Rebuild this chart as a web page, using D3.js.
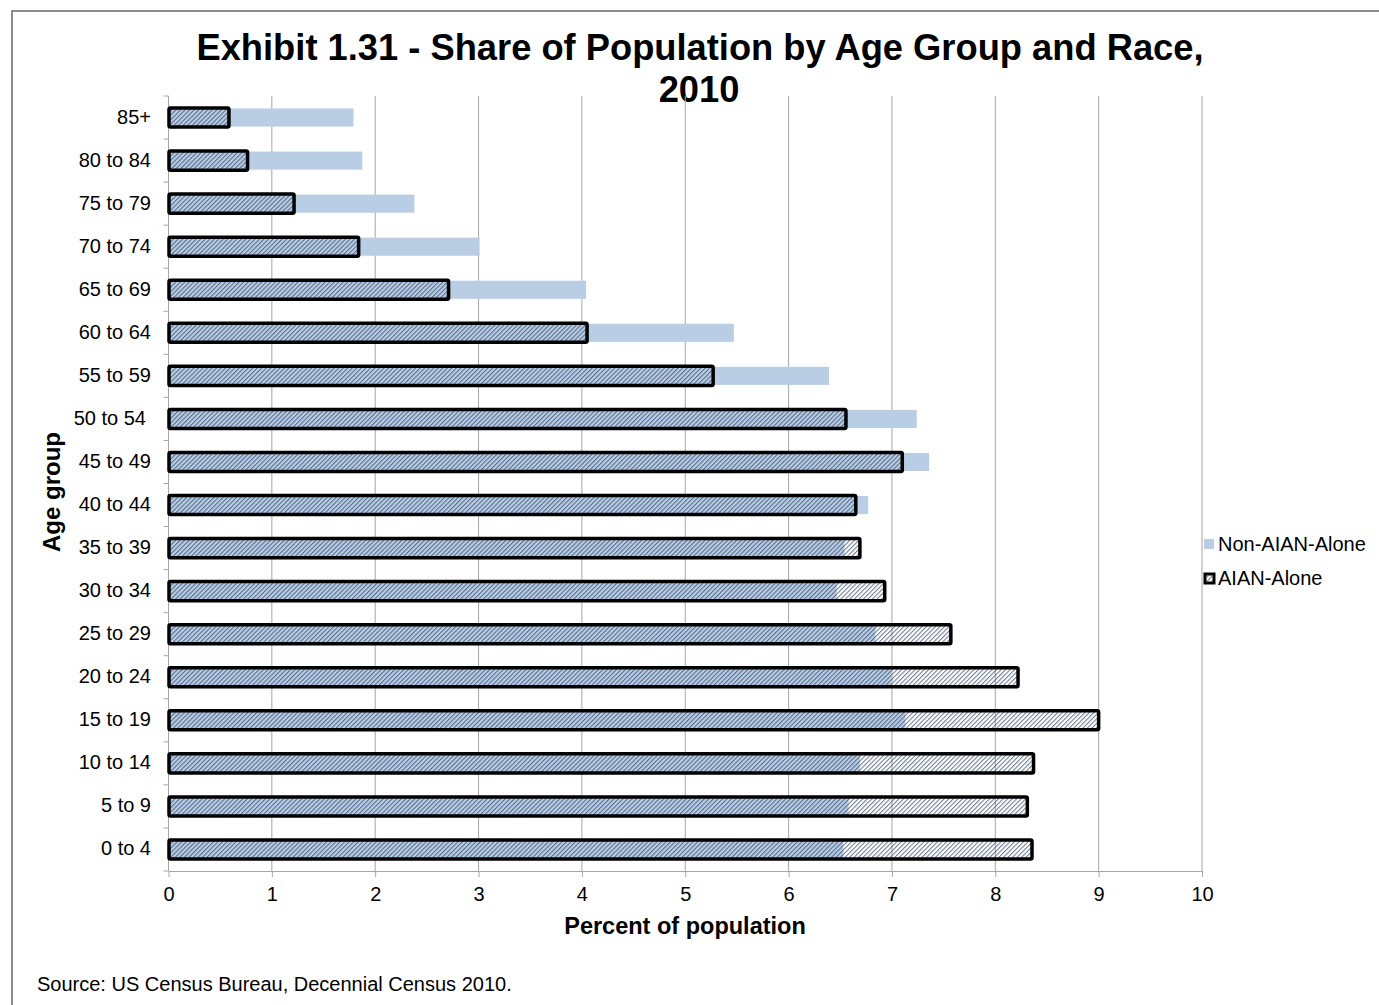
<!DOCTYPE html>
<html>
<head>
<meta charset="utf-8">
<script src="https://cdn.jsdelivr.net/npm/d3@7"></script>
<style>
  html, body { margin: 0; padding: 0; background: #fff; }
  svg { display: block; font-family: "Liberation Sans", Arial, sans-serif; }
</style>
</head>
<body>
<svg id="chart" width="1379" height="1005"></svg>
<script>
// Age groups, top to bottom
const ageGroups = ["85+", "80 to 84", "75 to 79", "70 to 74", "65 to 69", "60 to 64",
  "55 to 59", "50 to 54", "45 to 49", "40 to 44", "35 to 39", "30 to 34",
  "25 to 29", "20 to 24", "15 to 19", "10 to 14", "5 to 9", "0 to 4"];

// Percent of population in each age group, 2010
const nonAianAlone = [1.79, 1.875, 2.38, 3.01, 4.04, 5.47, 6.39, 7.24, 7.36, 6.77,
  6.54, 6.465, 6.84, 6.99, 7.13, 6.69, 6.58, 6.53];
const aianAlone = [0.585, 0.765, 1.215, 1.84, 2.71, 4.05, 5.27, 6.555, 7.10, 6.65,
  6.69, 6.93, 7.57, 8.22, 9.00, 8.37, 8.31, 8.355];

const xTicks = [0, 1, 2, 3, 4, 5, 6, 7, 8, 9, 10];
const seriesNames = ["Non-AIAN-Alone", "AIAN-Alone"];

const svg = d3.select("#chart");
const blue = "#b9cde5";
const gridColor = "#a6a6a6";

const plot = { left: 168.5, right: 1202, top: 96, bottom: 871 };

const x = d3.scaleLinear().domain([0, 10]).range([plot.left, plot.right]);
const y = d3.scaleBand().domain(ageGroups).range([plot.top, plot.bottom])
  .paddingInner(0.58).paddingOuter(0.29);

// diagonal hatch used for the AIAN-Alone bars
const defs = svg.append("defs");
const pat = defs.append("pattern")
  .attr("id", "hatch")
  .attr("patternUnits", "userSpaceOnUse")
  .attr("width", 3.2).attr("height", 3.2)
  .attr("patternTransform", "rotate(45)");
pat.append("line")
  .attr("x1", 0.6).attr("y1", 0).attr("x2", 0.6).attr("y2", 3.2)
  .attr("stroke", "#24395a").attr("stroke-width", 0.7);

// outer frame
svg.append("path")
  .attr("d", "M12,1005 L12,11 L1379,11")
  .attr("fill", "none").attr("stroke", "#8c8c8c").attr("stroke-width", 2);

// title
const title = svg.append("text")
  .attr("text-anchor", "middle")
  .attr("font-weight", "bold").attr("font-size", 36.3).attr("fill", "#000");
title.append("tspan").attr("x", 700).attr("y", 60)
  .text("Exhibit 1.31 - Share of Population by Age Group and Race,");
title.append("tspan").attr("x", 699).attr("y", 102).text("2010");

// vertical gridlines
svg.append("g").selectAll("line")
  .data(xTicks.filter(d => d > 0))
  .join("line")
  .attr("x1", d => x(d)).attr("x2", d => x(d))
  .attr("y1", plot.top).attr("y2", plot.bottom)
  .attr("stroke", gridColor).attr("stroke-width", 1);

// x axis
const xAxis = svg.append("g")
  .attr("transform", `translate(0,${plot.bottom})`)
  .call(d3.axisBottom(x).tickValues(xTicks).tickFormat(d3.format("d"))
    .tickSize(6).tickSizeOuter(0).tickPadding(10));
xAxis.select(".domain").attr("stroke", gridColor);
xAxis.selectAll(".tick line").attr("stroke", gridColor);
xAxis.selectAll(".tick text")
  .attr("font-size", 20).attr("fill", "#000")
  .attr("font-family", "'Liberation Sans', Arial, sans-serif");

// y axis line with ticks at category boundaries
const yAxisG = svg.append("g");
yAxisG.append("line")
  .attr("x1", plot.left).attr("x2", plot.left)
  .attr("y1", plot.top).attr("y2", plot.bottom)
  .attr("stroke", gridColor);
const boundaries = d3.range(ageGroups.length + 1)
  .map(i => plot.top + i * y.step());
yAxisG.selectAll("line.tick")
  .data(boundaries)
  .join("line")
  .attr("class", "tick")
  .attr("x1", plot.left - 5).attr("x2", plot.left)
  .attr("y1", d => d).attr("y2", d => d)
  .attr("stroke", gridColor);

// category labels
svg.append("g").selectAll("text")
  .data(ageGroups)
  .join("text")
  .attr("x", d => d === "50 to 54" ? 146 : 151)
  .attr("y", d => y(d) + y.bandwidth() / 2 - 1)
  .attr("dy", "0.35em")
  .attr("text-anchor", "end")
  .attr("font-size", 20).attr("fill", "#000")
  .text(d => d);

// Non-AIAN-Alone bars
svg.append("g").selectAll("rect")
  .data(ageGroups)
  .join("rect")
  .attr("x", x(0))
  .attr("y", d => y(d))
  .attr("width", (d, i) => x(nonAianAlone[i]) - x(0))
  .attr("height", y.bandwidth())
  .attr("fill", blue);

// AIAN-Alone bars: hatched, heavy black outline, drawn over the blue bars
svg.append("g").selectAll("rect")
  .data(ageGroups)
  .join("rect")
  .attr("x", x(0) + 0.5)
  .attr("y", d => y(d) - 0.5)
  .attr("width", (d, i) => x(aianAlone[i]) - x(0) - 0.5)
  .attr("height", y.bandwidth() + 1)
  .attr("rx", 1.5)
  .attr("fill", "url(#hatch)")
  .attr("stroke", "#000").attr("stroke-width", 3.5);

// axis titles
svg.append("text")
  .attr("x", 685).attr("y", 934)
  .attr("text-anchor", "middle")
  .attr("font-weight", "bold").attr("font-size", 23.5).attr("fill", "#000")
  .text("Percent of population");

svg.append("text")
  .attr("transform", "translate(60,492) rotate(-90)")
  .attr("text-anchor", "middle")
  .attr("font-weight", "bold").attr("font-size", 24).attr("fill", "#000")
  .text("Age group");

// legend
const legend = svg.append("g");
legend.append("rect")
  .attr("x", 1204).attr("y", 539).attr("width", 10).attr("height", 10)
  .attr("fill", blue);
legend.append("rect")
  .attr("x", 1205).attr("y", 574).attr("width", 9).attr("height", 9)
  .attr("fill", "#fff").attr("stroke", "#000").attr("stroke-width", 3);
legend.append("rect")
  .attr("x", 1206.5).attr("y", 575.5).attr("width", 6).attr("height", 6)
  .attr("fill", "url(#hatch)");
legend.selectAll("text.lbl")
  .data(seriesNames)
  .join("text")
  .attr("class", "lbl")
  .attr("x", 1218)
  .attr("y", (d, i) => 551 + i * 34)
  .attr("font-size", 20).attr("fill", "#000")
  .text(d => d);

// source note
svg.append("text")
  .attr("x", 37).attr("y", 991)
  .attr("font-size", 20).attr("fill", "#000")
  .text("Source: US Census Bureau, Decennial Census 2010.");
</script>
</body>
</html>
